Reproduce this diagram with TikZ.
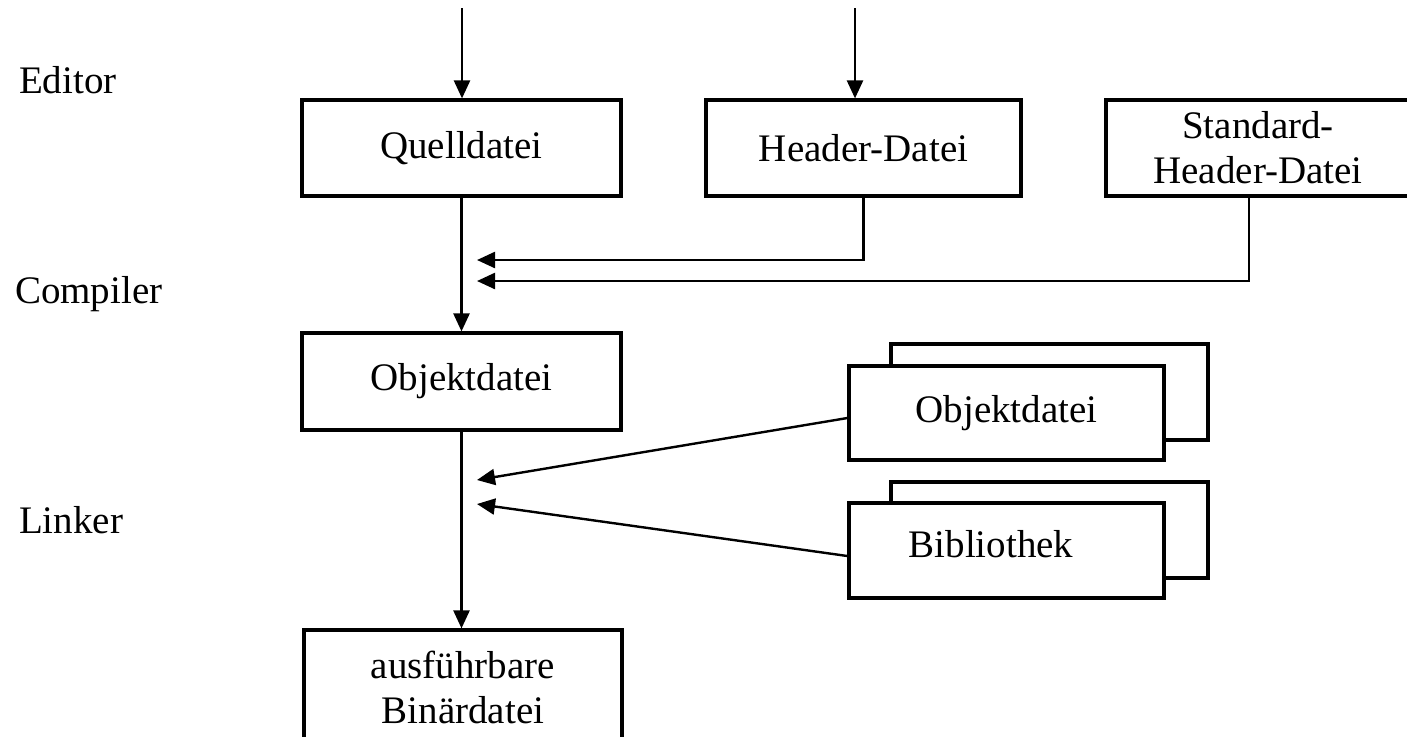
\documentclass[tikz,border=0pt]{standalone}
\usepackage{fontspec}
\setmainfont{Liberation Serif}
\usetikzlibrary{arrows.meta}
\begin{document}
\begin{tikzpicture}[x=0.5pt, y=-0.5pt,
		font=\fontsize{19.5}{22.5}\selectfont,
		file/.style={draw, line width=1.6pt, fill=white, inner sep=0pt, align=center},
		flow/.style={draw, line width=1.2pt, -{Triangle[length=9pt,width=8pt]}}]
		\useasboundingbox (0, 0) rectangle (1407, 736);

		\node[anchor=base west] (editor) at (12, 93){Editor};
		\node[anchor=base west] (compiler) at (8, 303){Compiler};
		\node[anchor=base west] (linker) at (12, 533){Linker};

		%%%%%%%%%%%%%%%%%%%%%%%%%%%%
		\node[file, minimum width=159.5pt, minimum height=48pt] (quell) at (461.5, 148){Quelldatei};
		\node[file, minimum width=157.5pt, minimum height=48pt] (header) at (863.5, 148){Header-Datei};
		\node[file, minimum width=152pt, minimum height=48pt] (std) at (1258, 148){Standard-\\Header-Datei};

			\coordinate (src1) at (462, 8);
			\coordinate (src2) at (855, 8);
			\draw[flow] (src1) to (src1 |- quell.north);
			\draw[flow] (src2) to (src2 |- header.north);

			\coordinate (hd) at (477, 260);
			\coordinate (sd) at (477, 281);
			\draw[flow] (header.south) |- (hd);
			\draw[flow] ([xshift=-4.5pt]std.south) |- (sd);

		%%%%%%%%%%%%%%%%%%%%%%%%%%%%
		\node[file, minimum width=159.5pt, minimum height=48.5pt] (obj) at (461.5, 381.5){Objektdatei};
			\draw[flow] (quell.south) to (obj.north);

		\node[file, minimum width=158.5pt, minimum height=48pt] (objB) at (1049.5, 392){};
		\node[file, minimum width=157.5pt, minimum height=47pt] (objF) at (1006.5, 413){Objektdatei};
		\node[file, minimum width=158.5pt, minimum height=48pt] (bibB) at (1049.5, 530){};
		\node[file, minimum width=157.5pt, minimum height=47.5pt] (bibF) at (1006.5, 550.5){};
			\node[anchor=base] (bibtxt) at (991, 557){Bibliothek};

			\coordinate (od) at (477, 480);
			\coordinate (bd) at (477, 504);
			\draw[flow] ([yshift=-2.5pt]objF.west) to (od);
			\draw[flow] ([yshift=-2.75pt]bibF.west) to (bd);

		%%%%%%%%%%%%%%%%%%%%%%%%%%%%
		\node[file, minimum width=159pt, minimum height=57pt] (bin) at (463, 687){ausführbare\\Binärdatei};
			\draw[flow] (obj.south) to (obj.south |- bin.north);
\end{tikzpicture}
\end{document}
